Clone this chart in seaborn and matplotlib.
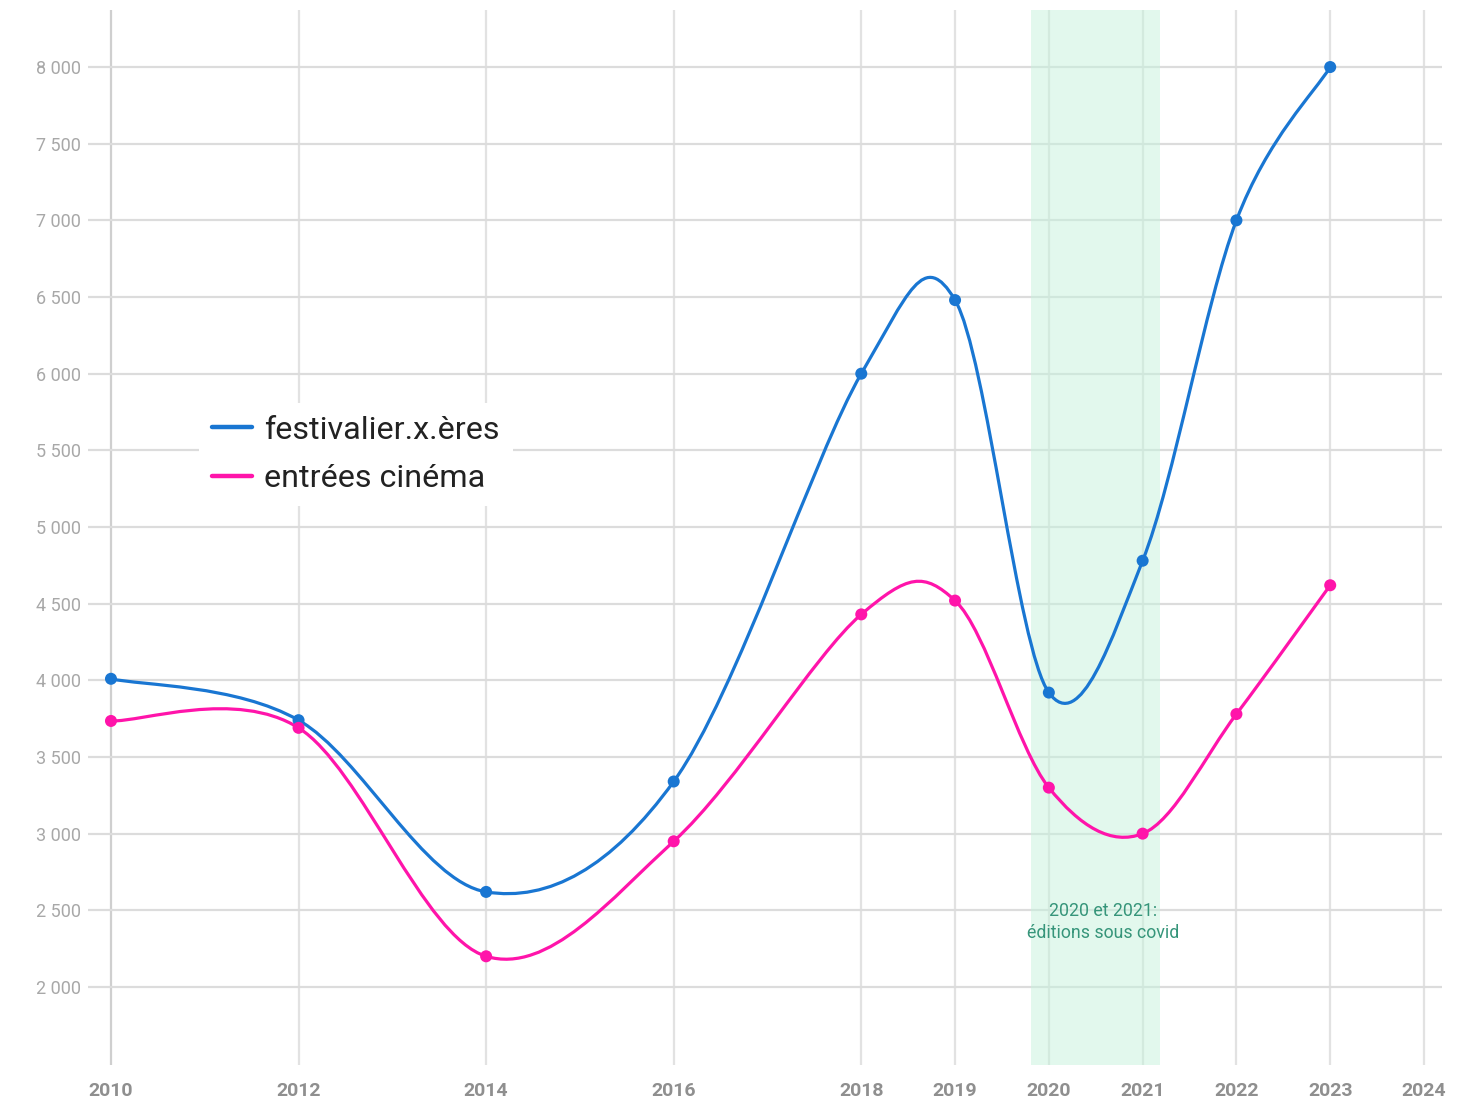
import numpy as np
import pandas as pd
import matplotlib
matplotlib.use("Agg")
import matplotlib.pyplot as plt
from matplotlib.path import Path
from matplotlib.patches import PathPatch
from matplotlib.lines import Line2D
from matplotlib.ticker import FuncFormatter
import seaborn as sns

# ---- data ----
years = [2010, 2012, 2014, 2016, 2018, 2019, 2020, 2021, 2022, 2023]
festivaliers = [4010, 3740, 2620, 3340, 6000, 6480, 3920, 4780, 7000, 8000]
cinema = [3735, 3690, 2200, 2950, 4430, 4520, 3300, 3000, 3780, 4620]
series_names = ["festivalier.x.ères", "entrées cinéma"]
series_colors = ["#1976D2", "#FF14AA"]
x_ticks = [2010, 2012, 2014, 2016, 2018, 2019, 2020, 2021, 2022, 2023, 2024]
y_ticks = list(range(2000, 8001, 500))
covid_span = (2019.81, 2021.18)
covid_label = "2020 et 2021:\néditions sous covid"

sns.set_theme(style="white")
plt.rcParams["font.family"] = ["Roboto", "DejaVu Sans"]

fig = plt.figure(figsize=(14.75, 11), dpi=100)
W, H = 1475, 1100
ax = fig.add_axes([88 / W, (H - 1065) / H, 1354 / W, 1055 / H])
ax.set_xlim(2009.755, 2024.192)
ax.set_ylim(1491, 8372)

# grid
for xt in x_ticks:
    ax.axvline(xt, color="#cfcfcf" if xt == 2010 else "#e2e2e2", lw=1.6, zorder=0)
for yt in y_ticks:
    ax.axhline(yt, color="#dcdcdc", lw=1.6, zorder=0)

# covid band
ax.axvspan(*covid_span, color="#c6f3dc", alpha=0.5, lw=0, zorder=1)
ax.text(2020.58, 2425, covid_label, ha="center", va="center", fontsize=12.8,
        color="#36957a", zorder=2, linespacing=1.25)


def smooth_path(xs, ys):
    pts = np.column_stack([xs, ys]).astype(float)
    n = len(pts)
    verts = [tuple(pts[0])]
    codes = [Path.MOVETO]
    for i in range(n - 1):
        p0 = pts[i - 1] if i > 0 else pts[i]
        p1 = pts[i]
        p2 = pts[i + 1]
        p3 = pts[i + 2] if i + 2 < n else pts[i + 1]
        c1 = p1 + (p2 - p0) / 6.0
        c2 = p2 - (p3 - p1) / 6.0
        verts += [tuple(c1), tuple(c2), tuple(p2)]
        codes += [Path.CURVE4] * 3
    return Path(verts, codes)


df = pd.DataFrame({
    "année": years * 2,
    "valeur": festivaliers + cinema,
    "série": [series_names[0]] * len(years) + [series_names[1]] * len(years),
})

for name, color, vals in zip(series_names, series_colors, [festivaliers, cinema]):
    patch = PathPatch(smooth_path(years, vals), facecolor="none", edgecolor=color,
                      lw=2.3, zorder=3, capstyle="round", joinstyle="round")
    ax.add_patch(patch)

sns.scatterplot(data=df, x="année", y="valeur", hue="série",
                palette=dict(zip(series_names, series_colors)),
                s=75, edgecolor="none", zorder=4, ax=ax, legend=False)

ax.set_xlabel("")
ax.set_ylabel("")
ax.set_xticks(x_ticks)
ax.set_xticklabels([str(x) for x in x_ticks])
ax.set_yticks(y_ticks)
ax.yaxis.set_major_formatter(FuncFormatter(lambda v, p: f"{int(v):,}".replace(",", " ")))
ax.tick_params(axis="y", length=0, pad=5, labelsize=13, labelcolor="#a8a8a8")
ax.tick_params(axis="x", length=0, pad=12, labelsize=14, labelcolor="#8f8f8f")
for lbl in ax.get_xticklabels():
    lbl.set_fontweight("bold")
for s in ax.spines.values():
    s.set_visible(False)

handles = [Line2D([0], [0], color=c, lw=3.2) for c in series_colors]
leg = ax.legend(handles, series_names, loc="upper left", bbox_to_anchor=(0.07, 0.643),
                frameon=True, fontsize=23.2, handlelength=1.25, handletextpad=0.38,
                labelspacing=0.6, borderpad=0.4, fancybox=False)
leg.get_frame().set_facecolor("white")
leg.get_frame().set_edgecolor("none")
leg.get_frame().set_alpha(1)
for t in leg.get_texts():
    t.set_color("#222222")
leg.set_zorder(5)

fig.savefig("out.png", dpi=100, facecolor="white")
